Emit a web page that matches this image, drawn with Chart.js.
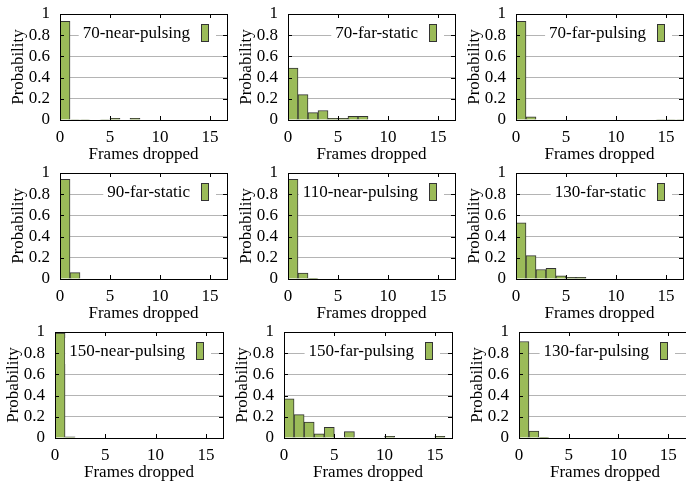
<!DOCTYPE html>
<html>
<head>
<meta charset="utf-8">
<script src="https://cdn.jsdelivr.net/npm/chart.js@4"></script>
<style>
  body { margin: 0; background: #fff; width: 686px; height: 481px; overflow: hidden; position: relative; }
  canvas { position: absolute; }
</style>
</head>
<body>
<script>
// frames dropped bins 0..16
var bins = [0, 1, 2, 3, 4, 5, 6, 7, 8, 9, 10, 11, 12, 13, 14, 15, 16];
var yTicks = [0, 0.2, 0.4, 0.6, 0.8, 1];
var xTicks = [0, 5, 10, 15];

var names = ['70-near-pulsing', '70-far-static', '70-far-pulsing',
             '90-far-static', '110-near-pulsing', '130-far-static',
             '150-near-pulsing', '150-far-pulsing', '130-far-pulsing'];

var near70pulsing  = [0.93, 0.005, 0.005, 0, 0.005, 0.015, 0, 0.015, 0, 0, 0, 0, 0, 0, 0, 0, 0];
var far70static    = [0.49, 0.24, 0.07, 0.09, 0.015, 0.015, 0.035, 0.035, 0, 0, 0, 0, 0, 0, 0, 0, 0];
var far70pulsing   = [0.93, 0.03, 0, 0, 0, 0, 0, 0, 0, 0, 0, 0, 0, 0, 0.005, 0.005, 0.005];
var far90static    = [0.94, 0.06, 0, 0, 0, 0, 0, 0, 0, 0, 0, 0, 0, 0, 0, 0, 0];
var near110pulsing = [0.94, 0.055, 0.007, 0, 0, 0, 0, 0, 0, 0, 0, 0, 0, 0, 0, 0, 0];
var far130static   = [0.53, 0.22, 0.09, 0.10, 0.03, 0.015, 0.015, 0, 0, 0, 0, 0, 0, 0, 0, 0, 0];
var near150pulsing = [0.99, 0.01, 0, 0, 0, 0, 0, 0, 0, 0, 0, 0, 0, 0, 0, 0, 0];
var far150pulsing  = [0.37, 0.22, 0.15, 0.04, 0.10, 0, 0.06, 0, 0, 0, 0.015, 0, 0, 0, 0, 0.015, 0];
var far130pulsing  = [0.91, 0.065, 0.007, 0, 0, 0, 0, 0, 0, 0, 0, 0, 0, 0, 0, 0, 0];

var series = [near70pulsing, far70static, far70pulsing,
              far90static, near110pulsing, far130static,
              near150pulsing, far150pulsing, far130pulsing];

// plot area of each panel: left, top, width, x max
var panels = [
  [60, 14, 167, 16.7], [288, 14, 167, 16.7], [516, 14, 167, 16.7],
  [60, 173, 167, 16.7], [288, 173, 167, 16.7], [516, 173, 167, 16.7],
  [55, 332, 168, 16.7], [284, 332, 168, 16.7], [519, 332, 172, 17.3]
];
var plotH = 106;
var padTop = 22;
var font = { family: 'Liberation Serif', size: 17 };

// box, inward ticks and the key, gnuplot style
var framePlugin = {
  id: 'frame',
  afterDatasetsDraw: function(chart) {
    var c = chart.ctx, a = chart.chartArea;
    var xs = chart.scales.x, ys = chart.scales.y;
    c.save();
    c.strokeStyle = '#000';
    c.lineWidth = 1;
    c.beginPath();
    xTicks.forEach(function(v) {
      var px = Math.round(xs.getPixelForValue(v)) + 0.5;
      c.moveTo(px, a.bottom); c.lineTo(px, a.bottom - 4);
      c.moveTo(px, a.top); c.lineTo(px, a.top + 4);
    });
    yTicks.forEach(function(v) {
      var py = Math.round(ys.getPixelForValue(v)) + 0.5;
      c.moveTo(a.left, py); c.lineTo(a.left + 4, py);
      c.moveTo(a.right, py); c.lineTo(a.right - 4, py);
    });
    c.stroke();
    c.strokeRect(Math.round(a.left) + 0.5, Math.round(a.top) + 0.5,
                 Math.round(a.right - a.left), Math.round(a.bottom - a.top));

    // key
    var label = chart.data.datasets[0].label;
    c.font = '17px "Liberation Serif"';
    var tw = c.measureText(label).width;
    var tx = a.left + 130;
    c.fillStyle = '#fff';
    c.fillRect(tx - tw - 4, a.top + 6, tw + 30, 26);
    c.fillStyle = '#000';
    c.textAlign = 'right';
    c.textBaseline = 'middle';
    c.fillText(label, tx, a.top + 20);
    c.fillStyle = '#9bbb59';
    c.fillRect(a.left + 141.5, a.top + 10.5, 7, 17);
    c.strokeStyle = '#333';
    c.strokeRect(a.left + 141.5, a.top + 10.5, 7, 17);
    c.restore();
  }
};

for (var i = 0; i < 9; i++) {
  var p = panels[i];
  var cv = document.createElement('canvas');
  cv.width = 60 + p[2] + 4;
  cv.height = padTop + plotH + 50;
  cv.style.left = (p[0] - 60) + 'px';
  cv.style.top = (p[1] - padTop) + 'px';
  document.body.appendChild(cv);

  var pts = bins.map(function(b, k) { return { x: b + 0.5, y: series[i][k] }; });

  new Chart(cv.getContext('2d'), {
    type: 'bar',
    data: {
      datasets: [{
        label: names[i],
        data: pts,
        backgroundColor: '#9bbb59',
        borderColor: '#333',
        borderWidth: 1,
        borderSkipped: 'bottom',
        barPercentage: 1,
        categoryPercentage: 1
      }]
    },
    options: {
      responsive: false,
      animation: false,
      devicePixelRatio: 1,
      layout: { padding: { left: 0, top: padTop, right: 4, bottom: 0 } },
      plugins: { legend: { display: false }, tooltip: { enabled: false } },
      scales: {
        x: {
          type: 'linear',
          offset: false,
          min: 0,
          max: p[3],
          afterFit: function(s) { s.height = 50; },
          grid: { display: false, drawTicks: false },
          border: { display: false },
          ticks: {
            stepSize: 5,
            includeBounds: false,
            autoSkip: false,
            padding: 7,
            color: '#000',
            font: font,
            maxRotation: 0
          },
          title: {
            display: true,
            text: 'Frames dropped',
            color: '#000',
            font: font,
            padding: { top: 0, bottom: 5 }
          }
        },
        y: {
          min: 0,
          max: 1,
          afterFit: function(s) { s.width = 60; },
          grid: {
            drawTicks: false,
            color: function(ctx) {
              var v = ctx.tick ? ctx.tick.value : 0;
              return (v > 0.01 && v < 0.99) ? '#b4b4b4' : 'rgba(0,0,0,0)';
            }
          },
          border: { display: false },
          ticks: {
            stepSize: 0.2,
            autoSkip: false,
            padding: 10,
            color: '#000',
            font: font,
            callback: function(v) { return String(+v.toFixed(1)); }
          },
          title: {
            display: true,
            text: 'Probability',
            color: '#000',
            font: font,
            padding: { top: 8, bottom: 0 }
          }
        }
      }
    },
    plugins: [framePlugin]
  });
}
</script>
</body>
</html>
